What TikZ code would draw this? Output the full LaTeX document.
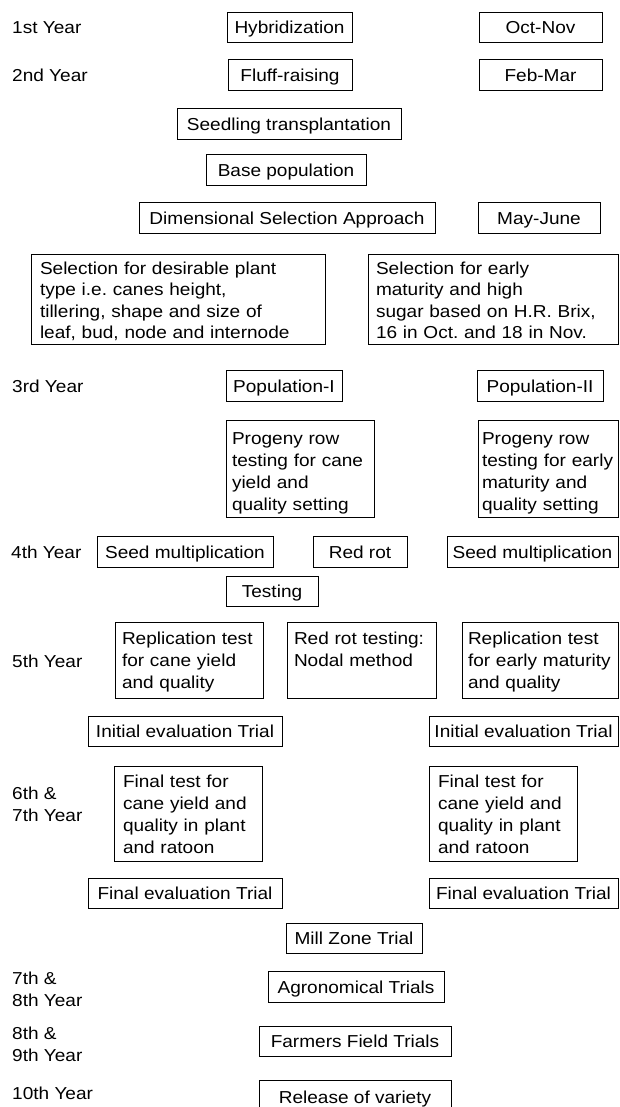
\documentclass[tikz,border=0pt]{standalone}
\usepackage{fontspec}
\setmainfont{Liberation Sans}[FakeStretch=1.1]
\newcommand{\topst}[1]{\rule{0pt}{#1pt}}
\newcommand{\botst}[1]{\rule[-#1pt]{0pt}{#1pt}}
\begin{document}
\begin{tikzpicture}[x=1pt,y=-1pt,
  every node/.style={font=\fontsize{17.3}{22}\selectfont\frenchspacing},
  lbl/.style={anchor=west, inner sep=0pt, text height=14, text depth=1.7},
  lbltwo/.style={anchor=north west, inner sep=0pt, align=left},
  bx/.style={draw=black, line width=0.8pt, inner sep=0pt, minimum height=30.5, text height=14, text depth=1.7},
  mbx/.style={draw=black, line width=0.8pt, inner ysep=0pt, align=left}
]
\useasboundingbox[fill=white] (0,0) rectangle (620,1107);
% year labels
\node[lbl] (y1) at (12,27.5) {1st Year};
\node[lbl] (y2) at (12,75) {2nd Year};
\node[lbl] (y3) at (12,386.5) {3rd Year};
\node[lbl] (y4) at (11,552.5) {4th Year};
\node[lbl] (y5) at (12,661) {5th Year};
\node[lbltwo] (y67) at (12,787) {\topst{12.3}6th \&\\7th Year\botst{4}};
\node[lbltwo] (y78) at (12,972) {\topst{12.3}7th \&\\8th Year\botst{4}};
\node[lbltwo] (y89) at (12,1027) {\topst{12.3}8th \&\\9th Year\botst{4}};
\node[lbl] (y10) at (12,1093) {10th Year};
% single-line boxes
\node[bx, minimum width=125] (hyb) at (289.5,27.5) {Hybridization};
\node[bx, minimum width=123] (octnov) at (540.5,27.5) {Oct-Nov};
\node[bx, minimum width=124] (fluff) at (290,75) {Fluff-raising};
\node[bx, minimum width=123] (febmar) at (540.5,75) {Feb-Mar};
\node[bx, minimum width=224] (seedling) at (289,124) {Seedling transplantation};
\node[bx, minimum width=160] (base) at (286,170) {Base population};
\node[bx, minimum width=296] (dim) at (287,218) {Dimensional Selection Approach};
\node[bx, minimum width=122] (mayjune) at (539,218) {May-June};
% selection boxes
\node[mbx, inner xsep=9, text width=276, font=\fontsize{17.3}{21.5}\selectfont\frenchspacing] (selL) at (178,299)
  {\topst{20.3}Selection for desirable plant\\type i.e. canes height,\\tillering, shape and size of\\leaf, bud, node and internode\botst{5.2}};
\node[mbx, inner xsep=8, text width=234, font=\fontsize{17.3}{21.5}\selectfont\frenchspacing] (selR) at (493,299)
  {\topst{20.3}Selection for early\\maturity and high\\sugar based on H.R. Brix,\\16 in Oct. and 18 in Nov.\botst{5.2}};
% 3rd year
\node[bx, minimum width=116] (popI) at (284,386) {Population-I};
\node[bx, minimum width=126] (popII) at (540,386) {Population-II};
\node[mbx, inner xsep=6, text width=136] (progL) at (300,468.5)
  {\topst{24}Progeny row\\testing for cane\\yield and\\quality setting\botst{7}};
\node[mbx, inner xsep=4, text width=132] (progR) at (548,468.5)
  {\topst{24}Progeny row\\testing for early\\maturity and\\quality setting\botst{7}};
% 4th year
\node[bx, minimum width=176] (seedL) at (185,552) {Seed multiplication};
\node[bx, minimum width=94] (redrot) at (360,552) {Red rot};
\node[bx, minimum width=171] (seedR) at (532.5,552) {Seed multiplication};
\node[bx, minimum width=92] (testing) at (272,591.5) {Testing};
% 5th year
\node[mbx, inner xsep=7, text width=134] (repL) at (189,660)
  {\topst{22.3}Replication test\\for cane yield\\and quality\botst{9.7}};
\node[mbx, inner xsep=7, text width=135] (rrtest) at (361.5,660)
  {\topst{22.3}Red rot testing:\\Nodal method\botst{31.7}};
\node[mbx, inner xsep=6, text width=144] (repR) at (540,660)
  {\topst{22.3}Replication test\\for early maturity\\and quality\botst{9.7}};
\node[bx, minimum width=194] (initL) at (185,731.5) {Initial evaluation Trial};
\node[bx, minimum width=189] (initR) at (523.5,731.5) {Initial evaluation Trial};
% 6th & 7th year
\node[mbx, inner xsep=9, text width=130] (ftL) at (188,813.5)
  {\topst{21}Final test for\\cane yield and\\quality in plant\\and ratoon\botst{8}};
\node[mbx, inner xsep=9, text width=130] (ftR) at (503,813.5)
  {\topst{21}Final test for\\cane yield and\\quality in plant\\and ratoon\botst{8}};
\node[bx, minimum width=194] (feL) at (185,893.5) {Final evaluation Trial};
\node[bx, minimum width=189] (feR) at (523.5,893.5) {Final evaluation Trial};
% later trials
\node[bx, minimum width=136] (mill) at (354,938.5) {Mill Zone Trial};
\node[bx, minimum width=176] (agro) at (356,987) {Agronomical Trials};
\node[bx, minimum width=192] (farm) at (355,1041.5) {Farmers Field Trials};
\node[bx, minimum width=192, minimum height=34] (rel) at (355,1097) {Release of variety};
\end{tikzpicture}
\end{document}
